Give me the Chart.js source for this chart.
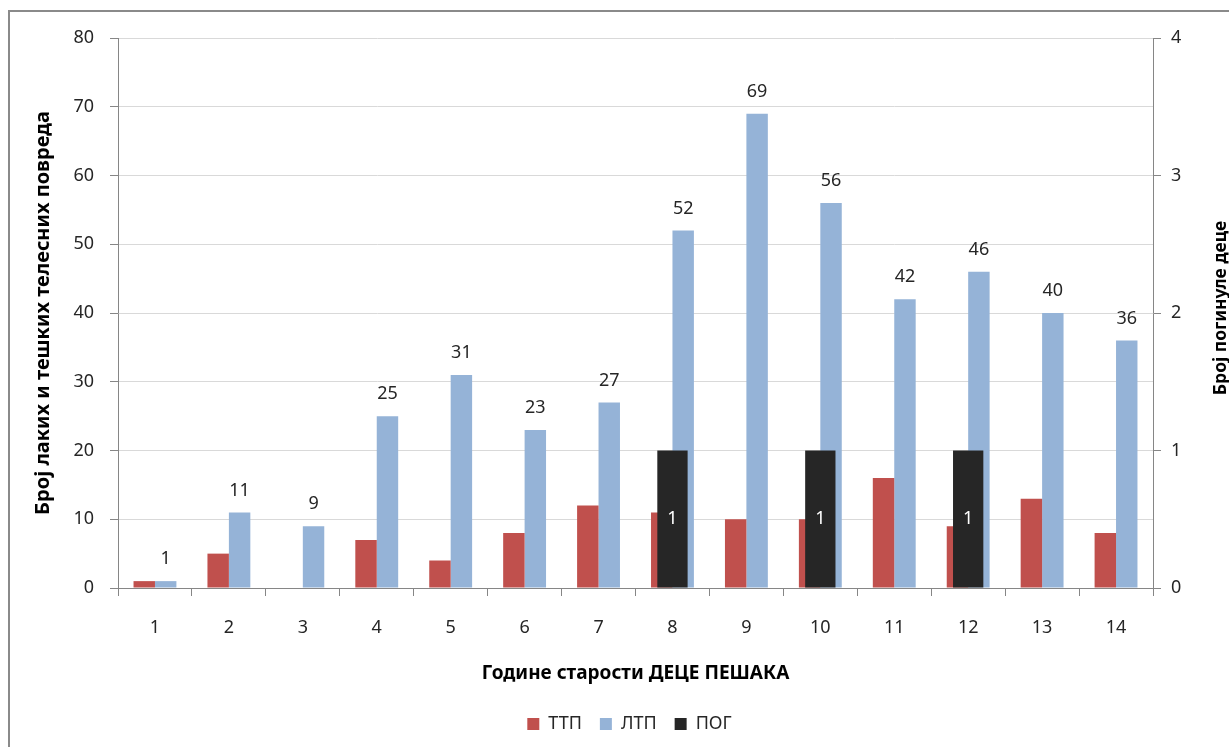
<!DOCTYPE html>
<html>
<head>
<meta charset="utf-8">
<script src="https://cdn.jsdelivr.net/npm/chart.js@4"></script>
<style>
  html, body { margin: 0; padding: 0; background: #fff; overflow: hidden; }
  #wrap { position: relative; width: 1229px; height: 747px; }
</style>
</head>
<body>
<div id="wrap"><canvas id="age__chart"></canvas></div>
<script>
// Age of child pedestrians (years)
const ages = ['1', '2', '3', '4', '5', '6', '7', '8', '9', '10', '11', '12', '13', '14'];

// Serious injuries (ТТП), light injuries (ЛТП), killed (ПОГ)
const ttp = [1, 5, 0, 7, 4, 8, 12, 11, 10, 10, 16, 9, 13, 8];
const ltp = [1, 11, 9, 25, 31, 23, 27, 52, 69, 56, 42, 46, 40, 36];
const pog = [0, 0, 0, 0, 0, 0, 0, 1, 0, 1, 0, 1, 0, 0];

const leftTicks = { min: 0, max: 80, step: 10 };
const rightTicks = { min: 0, max: 4, step: 1 };

const FONT = '"Noto Sans", "DejaVu Sans", sans-serif';
const AXIS_GRAY = '#868686';
const TEXT = '#262626';

// outer frame of the chart object
const frame = {
  id: 'frame',
  beforeDraw(chart) {
    const ctx = chart.ctx;
    ctx.save();
    ctx.fillStyle = '#fff';
    ctx.fillRect(0, 0, chart.width, chart.height);
    ctx.strokeStyle = '#8a8a8a';
    ctx.lineWidth = 2;
    ctx.strokeRect(9, 11, chart.width + 20, chart.height + 20);
    ctx.restore();
  }
};

// numbers over the ЛТП bars and inside the ПОГ bars
const valueLabels = {
  id: 'valueLabels',
  afterDatasetsDraw(chart) {
    const ctx = chart.ctx;
    ctx.save();
    ctx.font = '18px ' + FONT;
    ctx.textAlign = 'center';
    ctx.textBaseline = 'middle';
    ctx.fillStyle = TEXT;
    chart.getDatasetMeta(1).data.forEach((bar, i) => {
      ctx.fillText(ltp[i], bar.x, bar.y - 22);
    });
    ctx.fillStyle = '#fff';
    chart.getDatasetMeta(2).data.forEach((bar, i) => {
      if (!pog[i]) return;
      ctx.fillText(pog[i], bar.x, (bar.y + bar.base) / 2);
    });
    ctx.restore();
  }
};

// right axis title reads bottom-to-top like the left one
const rightTitle = {
  id: 'rightTitle',
  afterDraw(chart) {
    const area = chart.chartArea;
    const ctx = chart.ctx;
    ctx.save();
    ctx.translate(1221, (area.top + area.bottom) / 2 - 5);
    ctx.rotate(-Math.PI / 2);
    ctx.font = 'bold 17.5px ' + FONT;
    ctx.fillStyle = '#000';
    ctx.textAlign = 'center';
    ctx.textBaseline = 'middle';
    ctx.fillText('Број погинуле деце', 0, 0);
    ctx.restore();
  }
};

const ctx = document.getElementById('age__chart').getContext('2d');
const ageChart = new Chart(ctx, {
  type: 'bar',
  data: {
    labels: ages,
    datasets: [
      {
        label: 'ТТП',
        data: ttp,
        backgroundColor: '#C0504D',
        yAxisID: 'y',
        order: 1,
        categoryPercentage: 0.58,
        barPercentage: 1
      },
      {
        label: 'ЛТП',
        data: ltp,
        backgroundColor: '#95B3D7',
        yAxisID: 'y',
        order: 1,
        categoryPercentage: 0.58,
        barPercentage: 1
      },
      {
        // secondary series sits in front, centred on its category
        label: 'ПОГ',
        data: pog,
        backgroundColor: '#262626',
        yAxisID: 'y1',
        order: 0,
        grouped: false,
        categoryPercentage: 0.41,
        barPercentage: 1
      }
    ]
  },
  options: {
    responsive: true,
    maintainAspectRatio: false,
    animation: false,
    events: [],
    layout: {
      padding: { left: 30, right: 0, top: 38, bottom: 4 }
    },
    scales: {
      x: {
        type: 'category',
        offset: true,
        grid: {
          offset: true,
          drawOnChartArea: false,
          tickLength: 8,
          tickColor: AXIS_GRAY
        },
        border: { color: AXIS_GRAY },
        ticks: {
          color: TEXT,
          padding: 21,
          font: { family: FONT, size: 18 }
        },
        title: {
          display: true,
          text: 'Године старости ДЕЦЕ ПЕШАКА',
          color: '#000',
          font: { family: FONT, size: 19, weight: 'bold' },
          padding: { top: 0, bottom: 12 }
        },
        afterFit: (scale) => {
          const legendH = scale.chart.legend ? scale.chart.legend.height : 42;
          scale.height = 747 - 588 - 4 - legendH;
        }
      },
      y: {
        position: 'left',
        min: leftTicks.min,
        max: leftTicks.max,
        grid: {
          color: '#d9d9d9',
          tickColor: AXIS_GRAY,
          tickLength: 8
        },
        border: { color: AXIS_GRAY },
        ticks: {
          stepSize: leftTicks.step,
          color: TEXT,
          padding: 16,
          font: { family: FONT, size: 18 }
        },
        title: {
          display: true,
          text: 'Број лаких и тешких телесних повреда',
          color: '#000',
          font: { family: FONT, size: 20, weight: 'bold' },
          padding: { top: 1, bottom: 0 }
        },
        afterFit: (scale) => {
          scale.width = 88;
        }
      },
      y1: {
        position: 'right',
        min: rightTicks.min,
        max: rightTicks.max,
        grid: {
          drawOnChartArea: false,
          tickColor: AXIS_GRAY,
          tickLength: 8
        },
        border: { color: AXIS_GRAY },
        ticks: {
          stepSize: rightTicks.step,
          color: TEXT,
          padding: 10,
          font: { family: FONT, size: 18 }
        },
        afterFit: (scale) => {
          scale.width = 76;
        }
      }
    },
    plugins: {
      legend: {
        position: 'bottom',
        labels: {
          boxWidth: 12,
          boxHeight: 12,
          padding: 18,
          color: TEXT,
          font: { family: FONT, size: 18 },
          sort: (a, b) => a.datasetIndex - b.datasetIndex
        }
      },
      tooltip: { enabled: false }
    }
  },
  plugins: [frame, valueLabels, rightTitle]
});
</script>
</body>
</html>
